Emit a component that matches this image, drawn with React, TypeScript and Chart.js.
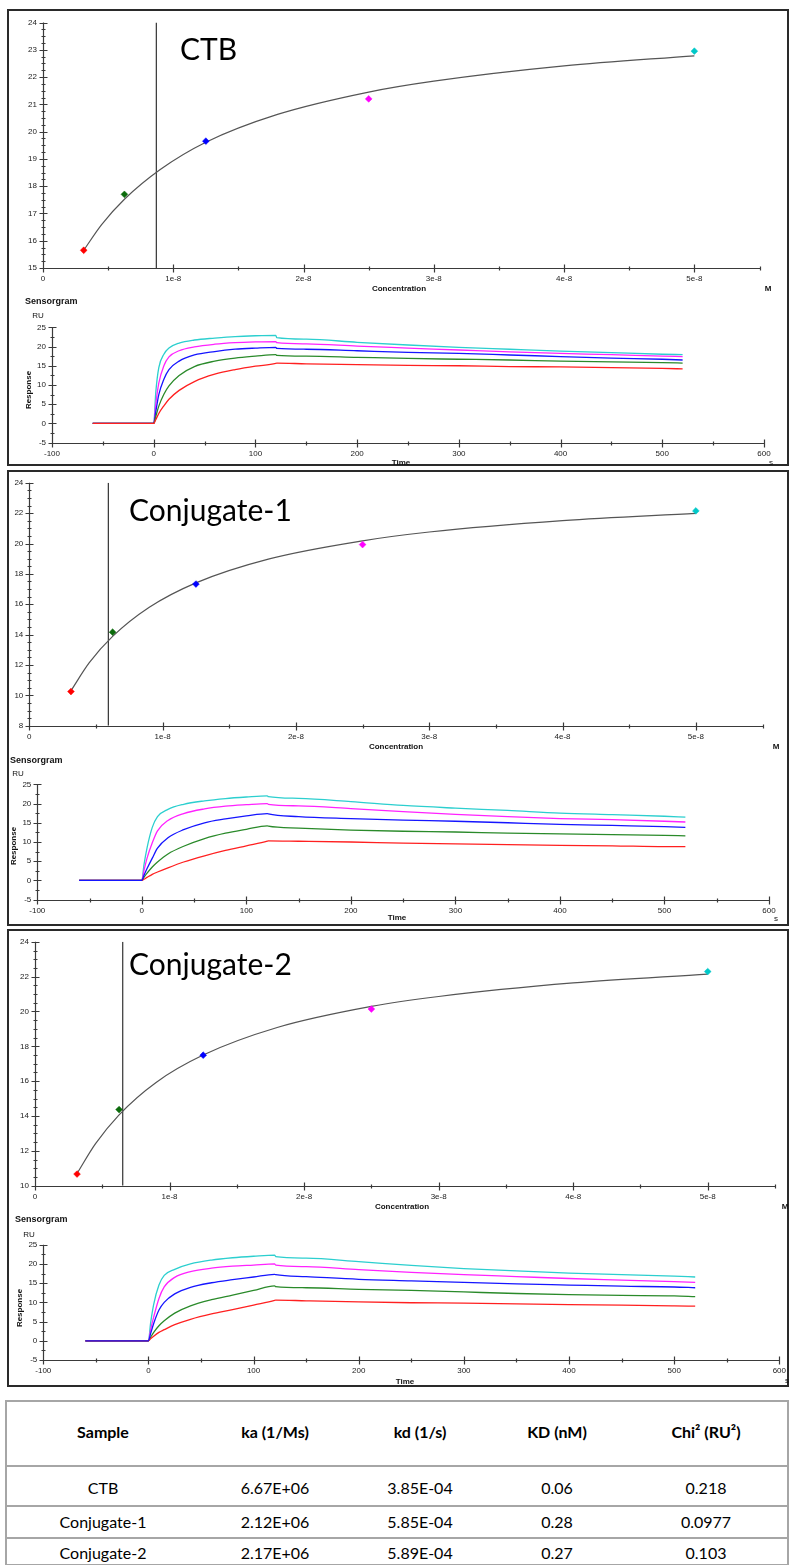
import React, { useEffect, useRef } from 'react';
import { Chart, registerables } from 'chart.js';

Chart.register(...registerables);

if (typeof document !== 'undefined') {
  document.body.style.margin = '0';
}

const SMALL_FONT = '"Liberation Sans", Arial, sans-serif';
const BIG_FONT = 'Lato, "Open Sans", sans-serif';

// ---------------- data ----------------
const concentrations = [3.125e-9, 6.25e-9, 12.5e-9, 25e-9, 50e-9];
const pointColors = ['#ff0000', '#0b6b0b', '#0000ff', '#ff00ff', '#00c8c8'];

const ctbResponses = [15.65, 17.7, 19.65, 21.2, 22.95];
const conj1Responses = [10.25, 14.16, 17.33, 19.93, 22.15];
const conj2Responses = [10.67, 14.37, 17.49, 20.14, 22.29];

const fitConc = [3.125e-9, 4.5e-9, 6.25e-9, 9e-9, 12.5e-9, 18e-9, 25e-9, 30e-9, 40e-9, 50e-9];
const ctbFit = [15.65, 16.59, 17.52, 18.61, 19.61, 20.63, 21.45, 21.85, 22.41, 22.78];
const conj1Fit = [10.3, 12.15, 13.88, 15.8, 17.41, 18.99, 20.18, 20.76, 21.51, 21.99];
const conj2Fit = [10.7, 12.41, 14.07, 15.93, 17.5, 19.08, 20.29, 20.86, 21.64, 22.15];

const ctbKD = 0.87e-8;
const conj1KD = 0.593e-8;
const conj2KD = 0.652e-8;

const concTicks = [0, 1e-8, 2e-8, 3e-8, 4e-8, 5e-8];
const concTickLabels = ['0', '1e-8', '2e-8', '3e-8', '4e-8', '5e-8'];
const concMinor = [0.5e-8, 1.5e-8, 2.5e-8, 3.5e-8, 4.5e-8, 5.5e-8];

const ctbYTicks = [15, 16, 17, 18, 19, 20, 21, 22, 23, 24];
const conj1YTicks = [8, 10, 12, 14, 16, 18, 20, 22, 24];
const conj2YTicks = [10, 12, 14, 16, 18, 20, 22, 24];

const timeTicks = [-100, 0, 100, 200, 300, 400, 500, 600];
const timeTickLabels = ['-100', '0', '100', '200', '300', '400', '500', '600'];
const timeMinor = [-50, 50, 150, 250, 350, 450, 550];
const ruTicks = [-5, 0, 5, 10, 15, 20, 25];
const ruTickLabels = ['-5', '0', '5', '10', '15', '20', '25'];
const ruMinor = [-2.5, 2.5, 7.5, 12.5, 17.5, 22.5];

const sensTime = [-60, -30, 0, 2, 5, 10, 15, 25, 40, 60, 80, 100, 120, 121, 150, 200, 250, 300, 350, 400, 450, 500, 520];

const ctbCyan = [0, 0, 0, 8, 14.5, 18, 19.6, 20.9, 21.7, 22.2, 22.6, 22.8, 22.9, 22.3, 21.9, 21.1, 20.4, 19.8, 19.3, 18.8, 18.4, 18.0, 17.9];
const ctbMagenta = [0, 0, 0, 5, 10.5, 15, 17.3, 18.9, 19.9, 20.6, 21.0, 21.2, 21.3, 21.0, 20.7, 20.1, 19.6, 19.1, 18.6, 18.2, 17.9, 17.5, 17.4];
const ctbBlue = [0, 0, 0, 3, 7.5, 11.5, 14.0, 16.2, 17.8, 18.7, 19.3, 19.6, 19.8, 19.5, 19.3, 18.9, 18.5, 18.2, 17.8, 17.4, 17.0, 16.7, 16.5];
const ctbGreen = [0, 0, 0, 1.8, 4.5, 7.6, 9.8, 12.5, 14.8, 16.2, 17.0, 17.5, 17.9, 17.7, 17.5, 17.2, 16.9, 16.7, 16.5, 16.2, 16.0, 15.8, 15.7];
const ctbRed = [0, 0, 0, 1, 2.6, 4.6, 6.3, 8.6, 10.9, 12.8, 14.0, 14.9, 15.6, 15.7, 15.5, 15.3, 15.1, 15.0, 14.8, 14.7, 14.5, 14.3, 14.2];

const conj1Cyan = [0, 0, 0, 4, 8.5, 13.8, 16.6, 18.5, 19.8, 20.7, 21.3, 21.7, 22.0, 21.8, 21.35, 20.5, 19.5, 18.8, 18.2, 17.5, 17.1, 16.7, 16.45];
const conj1Magenta = [0, 0, 0, 2.5, 5.8, 9.8, 12.9, 15.6, 17.4, 18.6, 19.3, 19.7, 20.0, 19.8, 19.4, 18.7, 17.9, 17.2, 16.6, 16.1, 15.8, 15.4, 15.2];
const conj1Blue = [0, 0, 0, 1.3, 3.1, 5.8, 8.4, 11.1, 13.2, 15.0, 16.0, 16.8, 17.4, 17.3, 16.6, 16.1, 15.7, 15.4, 15.0, 14.6, 14.3, 14.0, 13.8];
const conj1Green = [0, 0, 0, 0.8, 1.9, 3.5, 4.8, 6.9, 8.9, 10.9, 12.3, 13.3, 14.2, 14.1, 13.6, 13.1, 12.8, 12.6, 12.3, 12.1, 11.9, 11.7, 11.6];
const conj1Red = [0, 0, 0, 0.3, 0.8, 1.6, 2.2, 3.3, 4.8, 6.4, 7.8, 9.0, 10.2, 10.3, 10.2, 10.0, 9.7, 9.5, 9.3, 9.1, 9.0, 8.8, 8.8];

const conj2Cyan = [0, 0, 0, 4.5, 9.5, 14.5, 17.0, 18.6, 20.0, 21.0, 21.6, 22.0, 22.3, 21.9, 21.5, 20.6, 19.6, 18.8, 18.2, 17.6, 17.2, 16.8, 16.6];
const conj2Magenta = [0, 0, 0, 2.8, 6.2, 11.0, 14.0, 16.5, 18.0, 18.9, 19.4, 19.7, 20.0, 19.7, 19.3, 18.5, 17.8, 17.2, 16.7, 16.2, 15.8, 15.4, 15.2];
const conj2Blue = [0, 0, 0, 1.8, 4.5, 8.0, 10.0, 12.2, 13.9, 15.1, 15.9, 16.6, 17.3, 17.2, 16.7, 16.0, 15.6, 15.2, 14.8, 14.5, 14.2, 14.0, 13.8];
const conj2Green = [0, 0, 0, 0.9, 2.2, 3.9, 5.2, 7.2, 9.1, 10.7, 11.9, 13.1, 14.3, 14.1, 13.8, 13.4, 13.1, 12.7, 12.3, 12.0, 11.8, 11.7, 11.5];
const conj2Red = [0, 0, 0, 0.5, 1.2, 2.2, 2.9, 4.2, 5.6, 7.0, 8.1, 9.3, 10.5, 10.6, 10.4, 10.1, 9.9, 9.8, 9.6, 9.4, 9.3, 9.1, 9.0];

const tableHeaders = ['Sample', 'ka (1/Ms)', 'kd (1/s)', 'KD (nM)', 'Chi² (RU²)'];
const samples = ['CTB', 'Conjugate-1', 'Conjugate-2'];
const kaValues = ['6.67E+06', '2.12E+06', '2.17E+06'];
const kdValues = ['3.85E-04', '5.85E-04', '5.89E-04'];
const KDValues = ['0.06', '0.28', '0.27'];
const chi2Values = ['0.218', '0.0977', '0.103'];

// ---------------- helpers ----------------
const SENS_COLORS = { cyan: '#2ccfcf', magenta: '#ff22ff', blue: '#1515ff', green: '#2a8a2a', red: '#ff2020' };

type Box = { left: number; top: number; right: number; bottom: number };
type TextItem = {
  t: string; x: number; y: number; size: number; bold?: boolean;
  align?: CanvasTextAlign; baseline?: CanvasTextBaseline; rotate?: number; family?: string; color?: string;
};
type PlotSpec = {
  rect: Box; area: Box;
  xMin: number; xMax: number; yMin: number; yMax: number;
  xTicks: number[]; xLabels: string[]; xMinor: number[];
  yTicks: number[]; yLabels: string[]; yMinor: number[];
  datasets: any[]; texts: TextItem[];
};

const toXY = (xs: number[], ys: number[]) => xs.map((x, i) => ({ x, y: ys[i] }));

function minorBetween(ticks: number[], n: number): number[] {
  const out: number[] = [];
  for (let i = 0; i < ticks.length - 1; i++) {
    const a = ticks[i], b = ticks[i + 1];
    for (let k = 1; k <= n; k++) out.push(a + ((b - a) * k) / (n + 1));
  }
  return out;
}

function affinityDatasets(responses: number[], fit: number[], kd: number, yMin: number, yMax: number) {
  return [
    {
      data: toXY(concentrations, responses), showLine: false, pointStyle: 'rectRot', pointRadius: 3.4,
      pointBackgroundColor: pointColors, pointBorderColor: pointColors, pointBorderWidth: 0.5,
    },
    {
      data: toXY(fitConc, fit), showLine: true, pointRadius: 0, borderColor: '#555555', borderWidth: 1.2,
      cubicInterpolationMode: 'monotone',
    },
    {
      data: [{ x: kd, y: yMin }, { x: kd, y: yMax }], showLine: true, pointRadius: 0,
      borderColor: '#333333', borderWidth: 1.2,
    },
  ];
}

function sensLine(values: number[], color: string) {
  return {
    data: toXY(sensTime, values), showLine: true, pointRadius: 0, borderColor: color, borderWidth: 1.3,
    cubicInterpolationMode: 'monotone',
  };
}

function makeAxisPlugin(spec: PlotSpec) {
  return {
    id: 'axes2',
    afterDraw(chart: any) {
      const { ctx, chartArea: ca } = chart;
      const xs = chart.scales.x, ys = chart.scales.y;
      ctx.save();
      ctx.strokeStyle = '#3a3a3a';
      ctx.lineWidth = 1.2;
      const by = Math.round(ca.bottom) + 0.5;
      const lx = Math.round(ca.left) + 0.5;
      ctx.beginPath();
      ctx.moveTo(ca.left, by); ctx.lineTo(ca.right + 0.5, by);
      ctx.moveTo(lx, ca.top); ctx.lineTo(lx, by);
      for (const v of spec.xTicks) {
        const x = Math.round(xs.getPixelForValue(v)) + 0.5;
        ctx.moveTo(x, by - 4); ctx.lineTo(x, by + 4);
      }
      for (const v of spec.xMinor) {
        const x = Math.round(xs.getPixelForValue(v)) + 0.5;
        ctx.moveTo(x, by - 2); ctx.lineTo(x, by + 2);
      }
      for (const v of spec.yTicks) {
        const y = Math.round(ys.getPixelForValue(v)) + 0.5;
        ctx.moveTo(lx - 4, y); ctx.lineTo(lx + 4, y);
      }
      for (const v of spec.yMinor) {
        const y = Math.round(ys.getPixelForValue(v)) + 0.5;
        ctx.moveTo(lx - 2, y); ctx.lineTo(lx + 2, y);
      }
      ctx.stroke();
      ctx.restore();
    },
  };
}

function makeTextPlugin(spec: PlotSpec) {
  return {
    id: 'texts2',
    afterDraw(chart: any) {
      const ctx = chart.ctx as CanvasRenderingContext2D;
      ctx.save();
      for (const it of spec.texts) {
        ctx.font = `${it.bold ? 'bold ' : ''}${it.size}px ${it.family || SMALL_FONT}`;
        ctx.fillStyle = it.color || '#111111';
        ctx.textAlign = it.align || 'center';
        ctx.textBaseline = it.baseline || 'middle';
        const x = it.x - spec.rect.left, y = it.y - spec.rect.top;
        if (it.rotate) {
          ctx.save(); ctx.translate(x, y); ctx.rotate(it.rotate); ctx.fillText(it.t, 0, 0); ctx.restore();
        } else {
          ctx.fillText(it.t, x, y);
        }
      }
      ctx.restore();
    },
  };
}

function makeConfig(spec: PlotSpec): any {
  const { rect, area } = spec;
  const yW = area.left - rect.left;
  const xH = rect.bottom - area.bottom;
  const padTop = area.top - rect.top;
  const padRight = rect.right - area.right;
  const tickFont = { family: SMALL_FONT, size: 8 };
  return {
    type: 'scatter',
    data: { datasets: spec.datasets },
    options: {
      animation: false,
      responsive: false,
      maintainAspectRatio: false,
      events: [],
      layout: { padding: { left: 0, top: padTop, right: padRight, bottom: 0 } },
      plugins: { legend: { display: false }, tooltip: { enabled: false }, title: { display: false } },
      scales: {
        x: {
          type: 'linear', min: spec.xMin, max: spec.xMax,
          afterBuildTicks: (s: any) => { s.ticks = spec.xTicks.map((v) => ({ value: v })); },
          afterFit: (s: any) => { s.height = xH; },
          ticks: {
            callback: (_v: any, i: number) => spec.xLabels[i], font: tickFont, color: '#222222',
            padding: 6, maxRotation: 0, minRotation: 0, autoSkip: false,
          },
          grid: { display: false, drawTicks: false },
          border: { display: false },
        },
        y: {
          type: 'linear', min: spec.yMin, max: spec.yMax,
          afterBuildTicks: (s: any) => { s.ticks = spec.yTicks.map((v) => ({ value: v })); },
          afterFit: (s: any) => { s.width = yW; },
          ticks: {
            callback: (_v: any, i: number) => spec.yLabels[i], font: tickFont, color: '#222222',
            padding: 6, autoSkip: false,
          },
          grid: { display: false, drawTicks: false },
          border: { display: false },
        },
      },
    },
    plugins: [makeAxisPlugin(spec), makeTextPlugin(spec)],
  };
}

function affinitySpec(
  rect: Box, area: Box, yTicks: number[], yMinorCount: number,
  responses: number[], fit: number[], kd: number, name: string,
  nameX: number, nameBase: number, concX: number, concY: number, mX: number,
): PlotSpec {
  const yMin = yTicks[0], yMax = yTicks[yTicks.length - 1];
  return {
    rect, area, xMin: 0, xMax: 5.5e-8, yMin, yMax,
    xTicks: concTicks, xLabels: concTickLabels, xMinor: concMinor,
    yTicks, yLabels: yTicks.map(String), yMinor: minorBetween(yTicks, yMinorCount),
    datasets: affinityDatasets(responses, fit, kd, yMin, yMax),
    texts: [
      { t: name, x: nameX, y: nameBase, size: 30, family: BIG_FONT, align: 'left', baseline: 'alphabetic', color: '#000000' },
      { t: 'Concentration', x: concX, y: concY, size: 8, bold: true },
      { t: 'M', x: mX, y: concY, size: 8, bold: true },
    ],
  };
}

function sensSpec(
  rect: Box, area: Box, series: any[],
  sensX: number, sensY: number, ruX: number, ruY: number, respX: number, respY: number,
  timeX: number, timeY: number, sX: number, sY: number,
): PlotSpec {
  return {
    rect, area, xMin: -100, xMax: 600, yMin: -5, yMax: 25,
    xTicks: timeTicks, xLabels: timeTickLabels, xMinor: timeMinor,
    yTicks: ruTicks, yLabels: ruTickLabels, yMinor: ruMinor,
    datasets: series,
    texts: [
      { t: 'Sensorgram', x: sensX, y: sensY, size: 9, bold: true, align: 'left' },
      { t: 'RU', x: ruX, y: ruY, size: 8 },
      { t: 'Response', x: respX, y: respY, size: 8, bold: true, rotate: -Math.PI / 2 },
      { t: 'Time', x: timeX, y: timeY, size: 8, bold: true },
      { t: 's', x: sX, y: sY, size: 8 },
    ],
  };
}

const C = SENS_COLORS;

const plot1 = affinitySpec(
  { left: 9, top: 11, right: 792, bottom: 296 }, { left: 43, top: 22.5, right: 759.5, bottom: 268 },
  ctbYTicks, 3, ctbResponses, ctbFit, ctbKD, 'CTB', 180, 60, 399, 289, 768,
);
const sens1 = sensSpec(
  { left: 9, top: 296, right: 792, bottom: 465 }, { left: 52, top: 327.3, right: 764, bottom: 442.7 },
  [sensLine(ctbRed, C.red), sensLine(ctbGreen, C.green), sensLine(ctbBlue, C.blue), sensLine(ctbMagenta, C.magenta), sensLine(ctbCyan, C.cyan)],
  25, 302, 38, 316, 29, 390, 401, 463, 771, 462.5,
);
const plot2 = affinitySpec(
  { left: 9, top: 472, right: 792, bottom: 750 }, { left: 29.3, top: 480.7, right: 762.5, bottom: 725.7 },
  conj1YTicks, 3, conj1Responses, conj1Fit, conj1KD, 'Conjugate-1', 129, 521, 396, 746.5, 776,
);
const sens2 = sensSpec(
  { left: 9, top: 750, right: 792, bottom: 925 }, { left: 37.3, top: 784.3, right: 769, bottom: 899.7 },
  [sensLine(conj1Blue, C.blue), sensLine(conj1Red, C.red), sensLine(conj1Green, C.green), sensLine(conj1Magenta, C.magenta), sensLine(conj1Cyan, C.cyan)],
  10, 760.7, 18, 774, 14, 846, 397, 918, 776, 919,
);
const plot3 = affinitySpec(
  { left: 9, top: 931, right: 792, bottom: 1215 }, { left: 35, top: 940.7, right: 775, bottom: 1185.7 },
  conj2YTicks, 3, conj2Responses, conj2Fit, conj2KD, 'Conjugate-2', 129, 975, 402, 1207, 785,
);
const sens3 = sensSpec(
  { left: 9, top: 1215, right: 792, bottom: 1385 }, { left: 43.3, top: 1244.7, right: 779.3, bottom: 1360 },
  [sensLine(conj2Blue, C.blue), sensLine(conj2Red, C.red), sensLine(conj2Green, C.green), sensLine(conj2Magenta, C.magenta), sensLine(conj2Cyan, C.cyan)],
  15, 1220, 29, 1234.3, 20, 1308, 405, 1381.5, 787, 1381,
);

const ALL_SPECS = [plot1, sens1, plot2, sens2, plot3, sens3];

function PlotCanvas({ spec }: { spec: PlotSpec }) {
  const ref = useRef<HTMLCanvasElement>(null);
  useEffect(() => {
    const chart = new Chart(ref.current as HTMLCanvasElement, makeConfig(spec));
    return () => chart.destroy();
  }, [spec]);
  const w = spec.rect.right - spec.rect.left;
  const h = spec.rect.bottom - spec.rect.top;
  return (
    <canvas
      ref={ref}
      width={w}
      height={h}
      style={{ position: 'absolute', left: spec.rect.left, top: spec.rect.top, width: w, height: h }}
    />
  );
}

const panelBoxes = [
  { top: 9, bottom: 466 },
  { top: 470, bottom: 926 },
  { top: 929, bottom: 1387 },
];

const tableColX = [103, 275, 420, 557, 706];
const tableRowY = [1431, 1487, 1521, 1552];
const tableLineY = [1465, 1505, 1537];

export default function App() {
  const rows = samples.map((s, i) => [s, kaValues[i], kdValues[i], KDValues[i], chi2Values[i]]);
  return (
    <div style={{ position: 'relative', width: 793, height: 1565, background: '#ffffff', overflow: 'hidden' }}>
      {panelBoxes.map((p, i) => (
        <div
          key={'panel' + i}
          style={{
            position: 'absolute', left: 7, top: p.top, width: 782, height: p.bottom - p.top,
            border: '2px solid #2a2a2a', boxSizing: 'border-box',
          }}
        />
      ))}
      {ALL_SPECS.map((s, i) => (
        <PlotCanvas key={'c' + i} spec={s} />
      ))}
      <div
        style={{
          position: 'absolute', left: 5, top: 1400, width: 784, height: 166,
          border: '2px solid #a6a6a6', boxSizing: 'border-box',
        }}
      />
      {tableLineY.map((y, i) => (
        <div key={'l' + i} style={{ position: 'absolute', left: 5, top: y, width: 784, height: 2, background: '#a6a6a6' }} />
      ))}
      {tableHeaders.map((h, j) => (
        <div
          key={'h' + j}
          style={{
            position: 'absolute', left: tableColX[j], top: tableRowY[0], transform: 'translate(-50%, -50%)',
            fontFamily: BIG_FONT, fontWeight: 700, fontSize: 16, whiteSpace: 'nowrap', color: '#000',
          }}
        >
          {h}
        </div>
      ))}
      {rows.map((r, i) =>
        r.map((cell, j) => (
          <div
            key={'r' + i + '_' + j}
            style={{
              position: 'absolute', left: tableColX[j], top: tableRowY[i + 1], transform: 'translate(-50%, -50%)',
              fontFamily: BIG_FONT, fontSize: 16, whiteSpace: 'nowrap', color: '#000',
            }}
          >
            {cell}
          </div>
        )),
      )}
    </div>
  );
}
